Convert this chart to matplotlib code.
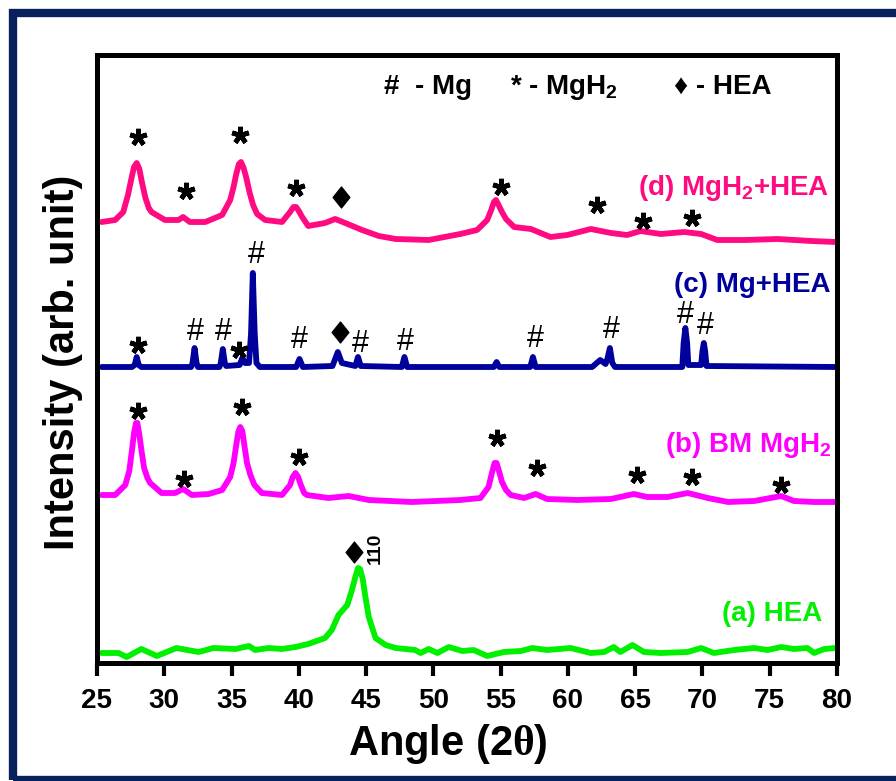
import numpy as np
import matplotlib
matplotlib.use("Agg")
import matplotlib.pyplot as plt
from matplotlib.patches import Rectangle
from matplotlib.path import Path

plt.rcParams['font.family'] = ['Liberation Sans', 'DejaVu Sans']
plt.rcParams['font.weight'] = 'bold'
plt.rcParams['mathtext.fontset'] = 'custom'
plt.rcParams['mathtext.rm'] = 'Liberation Sans:bold'
plt.rcParams['mathtext.bf'] = 'Liberation Sans:bold'
plt.rcParams['mathtext.sf'] = 'Liberation Serif:bold'

# XRD patterns (2theta, stacked intensity in arb. units)
hea_tt = [25.35, 26.6, 27.2, 28.3, 29.45, 30.9, 32.55, 33.65, 35.3, 36.3, 36.75, 37.75,
          38.75, 39.75, 40.7, 41.95, 42.45, 42.95, 43.6, 43.95, 44.2, 44.4, 44.55, 44.75,
          44.95, 45.2, 45.7, 46.45, 47.2, 48.65, 49.05, 49.65, 50.3, 51.15, 52.15, 53.0,
          54.0, 55.25, 56.5, 57.35, 58.45, 60.2, 61.7, 62.7, 63.4, 63.9, 64.8, 65.65,
          66.9, 68.9, 69.9, 70.85, 72.35, 73.85, 74.85, 75.85, 76.8, 77.8, 78.3, 79.05,
          79.9]
hea_int = [10, 10, 6, 14, 7, 15, 11, 15, 14, 17, 13, 15,
           14, 16, 19, 25, 33, 48, 58, 73, 86, 95, 94, 84,
           66, 46, 25, 18, 15, 13, 10, 14, 10, 16, 12, 13,
           7, 11, 12, 15, 13, 15, 10, 11, 16, 11, 18, 11,
           10, 11, 15, 10, 13, 15, 13, 16, 14, 15, 10, 14,
           15]

bm_tt = [25.35, 26.35, 27.1, 27.4, 27.6, 27.75, 27.9, 28.0, 28.15, 28.3, 28.5, 28.75,
         28.95, 29.8, 30.8, 31.4, 32.05, 33.3, 34.3, 34.9, 35.15, 35.35, 35.5, 35.65,
         35.8, 35.95, 36.15, 36.4, 36.7, 37.25, 38.75, 39.35, 39.55, 39.75, 39.95, 40.15,
         40.4, 40.6, 42.2, 43.7, 45.2, 48.4, 52.0, 53.5, 54.1, 54.35, 54.55, 54.7,
         54.9, 55.1, 55.4, 55.75, 56.75, 57.6, 58.45, 60.7, 63.2, 64.9, 65.9, 67.4,
         68.9, 70.4, 71.9, 73.85, 75.85, 76.8, 78.3, 79.9]
bm_int = [168, 168, 178, 192, 213, 230, 240, 240, 228, 213, 195, 185,
          180, 170, 170, 174, 168, 169, 173, 186, 200, 218, 231, 236,
          232, 218, 200, 188, 178, 170, 168, 178, 186, 190, 186, 178,
          170, 168, 165, 167, 163, 161, 163, 165, 176, 190, 200, 200,
          191, 181, 173, 168, 165, 169, 164, 163, 164, 169, 166, 166,
          170, 165, 161, 162, 167, 162, 161, 161]

mg_tt = [25.35, 27.6, 27.8, 27.95, 28.1, 28.3, 32.0, 32.1, 32.25, 32.4, 32.5, 34.1,
         34.2, 34.35, 34.5, 34.6, 35.6, 35.8, 36.0, 36.3, 36.45, 36.58, 36.72, 36.85,
         37.1, 39.8, 40.05, 40.3, 42.5, 42.9, 43.2, 44.2, 44.4, 44.6, 47.65, 47.85,
         48.05, 54.5, 54.7, 54.9, 57.2, 57.4, 57.6, 61.8, 62.4, 62.8, 62.95, 63.12,
         63.3, 63.5, 68.5, 68.6, 68.73, 68.86, 68.95, 69.9, 70.0, 70.1, 70.2, 70.3,
         79.9]
mg_int = [296, 296, 298, 306, 298, 296, 296, 300, 315, 300, 296, 296,
          300, 314, 300, 297, 298, 305, 300, 300, 330, 390, 330, 300,
          296, 296, 304, 296, 297, 311, 300, 297, 306, 297, 296, 306,
          296, 296, 301, 296, 296, 306, 296, 296, 303, 299, 305, 315,
          300, 296, 296, 320, 335, 320, 298, 298, 312, 320, 312, 297,
          296]

mix_tt = [25.35, 26.35, 26.95, 27.3, 27.55, 27.75, 27.95, 28.15, 28.35, 28.6, 28.85, 29.05,
          30.05, 31.05, 31.4, 31.9, 33.05, 34.3, 34.9, 35.15, 35.35, 35.55, 35.7, 35.9,
          36.1, 36.35, 36.6, 36.9, 37.5, 38.75, 39.35, 39.6, 39.8, 40.0, 40.25, 40.7,
          41.95, 42.7, 43.45, 44.7, 45.95, 47.2, 49.65, 52.0, 53.25, 54.0, 54.3, 54.5,
          54.65, 54.85, 55.1, 55.4, 56.0, 57.25, 58.7, 59.95, 61.7, 63.2, 64.4, 65.4,
          66.9, 68.65, 69.9, 71.1, 73.1, 75.6, 78.1, 79.9]
mix_int = [441, 443, 451, 468, 484, 496, 500, 494, 480, 465, 455, 451,
           443, 443, 446, 441, 441, 448, 463, 476, 489, 499, 501, 495,
           485, 470, 458, 449, 443, 441, 451, 456, 456, 452, 446, 437,
           440, 444, 440, 433, 427, 424, 423, 429, 433, 443, 453, 461,
           463, 458, 451, 444, 436, 434, 426, 428, 434, 430, 428, 432,
           429, 431, 429, 423, 423, 424, 422, 421]

# phase markers: (2theta, height)
mgh2_star_tt = [28.05, 31.6, 35.65, 39.8, 55.0, 62.15, 65.55, 69.2,
                28.03, 31.5, 35.77, 39.98, 54.7, 57.73, 65.17, 69.26, 75.83,
                28.07, 35.52]
mgh2_star_y = [526, 472, 528, 475, 476, 458, 442, 445,
               252, 184, 256, 206, 225, 195, 188, 186, 178,
               318, 313]
mg_hash_tt = [32.3, 34.4, 36.85, 40.06, 44.6, 47.9, 57.6, 63.23, 68.69, 70.18]
mg_hash_y = [323, 323, 400, 315, 311, 313, 316, 325, 340, 329]
hea_dia_tt = [43.15, 43.09, 44.08]
hea_dia_y = [466, 331, 111]

patterns = [
    (hea_tt, hea_int, '#00f000', '(a) HEA', 78.9, 42),
    (bm_tt, bm_int, '#ff00ff', '(b) BM MgH$_2$', 79.6, 211),
    (mg_tt, mg_int, '#00009c', '(c) Mg+HEA', 79.55, 371),
    (mix_tt, mix_int, '#ff0a80', '(d) MgH$_2$+HEA', 79.4, 468),
]

fig = plt.figure(figsize=(8.96, 7.81), dpi=100)
ax = fig.add_axes([97 / 896, 1 - 663 / 781, 740 / 896, 608 / 781])

for tt, inten, col, lab, lx, ly in patterns:
    ax.plot(tt, inten, color=col, lw=4.2, solid_joinstyle='round',
            solid_capstyle='round', zorder=2)
    ax.text(lx, ly, lab, color=col, fontsize=20, fontweight='bold',
            ha='right', va='baseline')

ax.plot(mgh2_star_tt, mgh2_star_y, ls='none', marker=(5, 2, 0), ms=12.5,
        mew=3.4, color='black', zorder=3)
dia = Path([(0, 1), (0.8, 0), (0, -1), (-0.8, 0), (0, 1)],
           [Path.MOVETO, Path.LINETO, Path.LINETO, Path.LINETO, Path.CLOSEPOLY])
ax.plot(hea_dia_tt, hea_dia_y, ls='none', marker=dia, ms=15,
        color='black', zorder=3)
for x, y in zip(mg_hash_tt, mg_hash_y):
    ax.text(x, y, '#', fontsize=22, fontweight='normal', ha='center',
            va='baseline', color='black')
ax.text(45.7, 115, '110', rotation=90, fontsize=14, ha='center', va='center')

# phase legend along the top
ax.text(46.3, 569, '#  - Mg', fontsize=20, ha='left', va='baseline')
ax.text(55.7, 569, '* - MgH$_2$', fontsize=20, ha='left', va='baseline')
ax.text(67.9, 569, '\u2666 - HEA', fontsize=20, ha='left', va='baseline')

ax.set_xlim(25, 80)
ax.set_ylim(0, 608)
ax.set_xticks(np.arange(25, 81, 5))
ax.set_yticks([])
ax.tick_params(axis='x', direction='out', length=9, width=3, pad=9, labelsize=20)
for sp in ax.spines.values():
    sp.set_linewidth(3.6)

fig.text(448 / 896, 1 - 755 / 781, 'Angle (2$\\mathsf{\\theta}$)', fontsize=30,
         ha='center', va='baseline')
fig.text(63 / 896, 1 - 362 / 781, 'Intensity (arb. unit)', fontsize=30,
         rotation=90, ha='center', va='center')

# navy frame round the figure
fig.patches.append(Rectangle((13 / 896, 1 - 780 / 781), 1.1, (780 - 12.5) / 781,
                             transform=fig.transFigure, fill=False,
                             edgecolor='#08215c', lw=6, zorder=0))

fig.savefig('out.png', dpi=100)
